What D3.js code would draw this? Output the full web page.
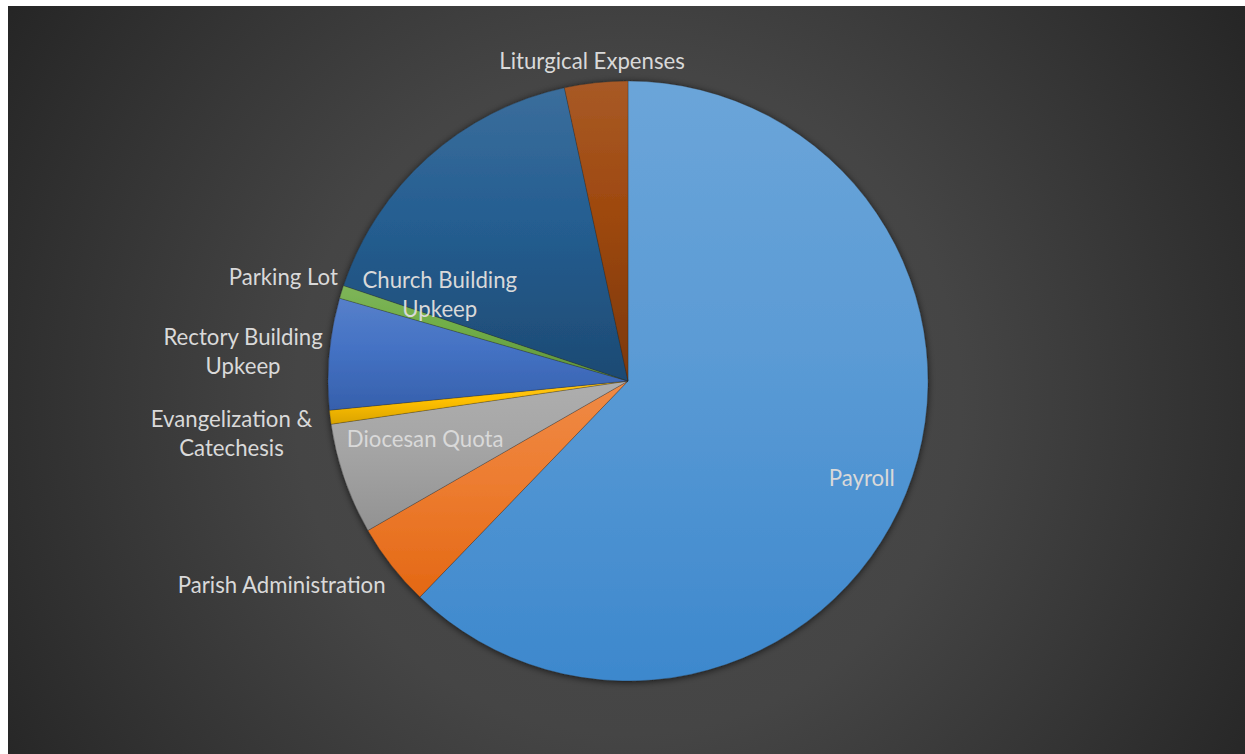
<!DOCTYPE html>
<html>
<head>
<meta charset="utf-8">
<script src="https://cdn.jsdelivr.net/npm/d3@7"></script>
<style>
  body { margin: 0; background: #ffffff; }
  svg { display: block; }
  .lbl { font-family: Lato, "Open Sans", sans-serif; font-size: 22.2px; fill: #d9d9d9; }
</style>
</head>
<body>
<div id="chart"></div>
<script>
// slices, clockwise from 12 o'clock
const categories = ["Payroll", "Parish Administration", "Diocesan Quota", "Evangelization & Catechesis",
                    "Rectory Building Upkeep", "Parking Lot", "Church Building Upkeep", "Liturgical Expenses"];
const shares = [62.2, 4.5, 6.0, 0.75, 6.0, 0.7, 16.45, 3.4];
const labelLines = [["Payroll"], ["Parish Administration"], ["Diocesan Quota"], ["Evangelization &", "Catechesis"],
                    ["Rectory Building", "Upkeep"], ["Parking Lot"], ["Church Building", "Upkeep"], ["Liturgical Expenses"]];
const colors = ["#5B9BD5", "#ED7D31", "#A5A5A5", "#FFC000", "#4472C4", "#70AD47", "#255E91", "#9E480E"];
// where Excel put each label: [angle in degrees clockwise from top, distance from centre]
const labelSpots = [[112.5, 253], [239.5, 402], [254, 211], [262.4, 400], [274.3, 386], [286.8, 360], [294.6, 207], [353.6, 322]];

const W = 1245, H = 754;
const cx = 628, cy = 381, radius = 300;

const svg = d3.select("#chart").append("svg")
    .attr("width", W)
    .attr("height", H);

const defs = svg.append("defs");

// chart area background
const bg = defs.append("radialGradient")
    .attr("id", "bg")
    .attr("gradientUnits", "userSpaceOnUse")
    .attr("cx", cx).attr("cy", cy + 20).attr("r", 740);
bg.append("stop").attr("offset", 0).attr("stop-color", "#4b4b4b");
bg.append("stop").attr("offset", 0.45).attr("stop-color", "#454545");
bg.append("stop").attr("offset", 1).attr("stop-color", "#252525");

svg.append("rect")
    .attr("x", 8).attr("y", 6)
    .attr("width", W - 8).attr("height", H - 6)
    .attr("fill", "url(#bg)");

// soft shadow round the pie
const shadow = defs.append("filter")
    .attr("id", "shadow")
    .attr("x", "-10%").attr("y", "-10%").attr("width", "120%").attr("height", "120%");
shadow.append("feDropShadow")
    .attr("dx", 0).attr("dy", 1)
    .attr("stdDeviation", 3.5)
    .attr("flood-color", "#000")
    .attr("flood-opacity", 0.65);

// one vertical gradient per slice, lighter at the top
colors.forEach(function (c, i) {
  const g = defs.append("linearGradient")
      .attr("id", "slice" + i)
      .attr("x1", 0).attr("y1", 0).attr("x2", 0).attr("y2", 1);
  const bottom = d3.hsl(c);
  bottom.l -= 0.075;
  g.append("stop").attr("offset", 0).attr("stop-color", d3.interpolateRgb(c, "#ffffff")(0.1));
  g.append("stop").attr("offset", 0.45).attr("stop-color", c);
  g.append("stop").attr("offset", 1).attr("stop-color", bottom.formatHex());
});

const pie = d3.pie()
    .sort(null)
    .value(d => d.value);

const arc = d3.arc()
    .innerRadius(0)
    .outerRadius(radius);

const data = categories.map((c, i) => ({ name: c, value: shares[i], idx: i }));

const g = svg.append("g")
    .attr("transform", `translate(${cx},${cy})`);

g.append("g")
    .attr("filter", "url(#shadow)")
  .selectAll("path")
  .data(pie(data))
  .join("path")
    .attr("d", arc)
    .attr("fill", d => `url(#slice${d.data.idx})`)
    .attr("stroke", "rgba(40,40,40,0.4)")
    .attr("stroke-width", 0.7);

// labels
const lineH = 29;
const labels = g.append("g")
  .selectAll("text")
  .data(data)
  .join("text")
    .attr("class", "lbl")
    .attr("text-anchor", "middle")
    .attr("transform", function (d) {
      const a = labelSpots[d.idx][0] * Math.PI / 180, r = labelSpots[d.idx][1];
      return `translate(${r * Math.sin(a)},${-r * Math.cos(a)})`;
    });

labels.selectAll("tspan")
  .data(d => labelLines[d.idx].map((t, k, arr) => ({ t: t, k: k, n: arr.length })))
  .join("tspan")
    .attr("x", 0)
    .attr("y", d => (d.k - (d.n - 1) / 2) * lineH)
    .attr("dy", "0.35em")
    .text(d => d.t);
</script>
</body>
</html>
